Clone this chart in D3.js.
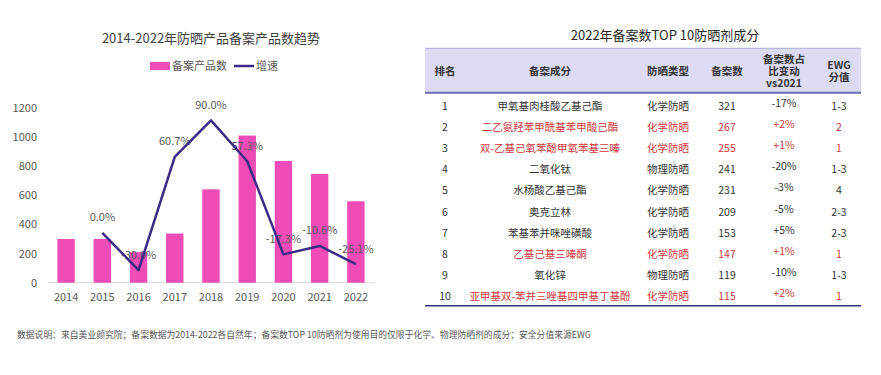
<!DOCTYPE html>
<html>
<head>
<meta charset="utf-8">
<script src="https://cdn.jsdelivr.net/npm/d3@7"></script>
<style>
  body { margin: 0; background: #fff; }
  svg { display: block; font-family: "Noto Sans CJK SC", "Noto Sans", sans-serif; }
</style>
</head>
<body>
<script>
// ---------- data: left chart ----------
var years = ["2014", "2015", "2016", "2017", "2018", "2019", "2020", "2021", "2022"];
var counts = [300, 300, 210, 337, 641, 1010, 835, 746, 559];
var growth = [null, 0.0, -30.0, 60.7, 90.0, 57.3, -17.3, -10.6, -25.1];
var yTicks = [0, 200, 400, 600, 800, 1000, 1200];

// ---------- data: right table ----------
var ranks = ["1", "2", "3", "4", "5", "6", "7", "8", "9", "10"];
var ingredients = ["甲氧基肉桂酸乙基己酯", "二乙氨羟苯甲酰基苯甲酸己酯", "双-乙基己氧苯酚甲氧苯基三嗪", "二氧化钛",
    "水杨酸乙基己酯", "奥克立林", "苯基苯并咪唑磺酸", "乙基己基三嗪酮", "氧化锌", "亚甲基双-苯并三唑基四甲基丁基酚"];
var sunTypes = ["化学防晒", "化学防晒", "化学防晒", "物理防晒", "化学防晒", "化学防晒", "化学防晒", "化学防晒", "物理防晒", "化学防晒"];
var filings = [321, 267, 255, 241, 231, 209, 153, 147, 119, 115];
var shareChange = ["-17%", "+2%", "+1%", "-20%", "-3%", "-5%", "+5%", "+1%", "-10%", "+2%"];
var ewgScores = ["1-3", "2", "1", "1-3", "4", "2-3", "2-3", "1", "1-3", "1"];
var highlighted = [false, true, true, false, false, false, false, true, false, true];

var W = 881, H = 375;
var svg = d3.select("body").append("svg").attr("width", W).attr("height", H);

// ================================
// LEFT: bars + growth line
// ================================
var pink = "#f04cb8", navy = "#3d2a85", textGray = "#595959";

svg.append("text")
    .attr("x", 211).attr("y", 43)
    .attr("text-anchor", "middle")
    .attr("font-size", 13).attr("fill", "#404040")
    .text("2014-2022年防晒产品备案产品数趋势");

// legend
var lg = svg.append("g");
lg.append("rect").attr("x", 150).attr("y", 62).attr("width", 20).attr("height", 8).attr("fill", pink);
lg.append("text").attr("x", 172).attr("y", 70).attr("font-size", 11).attr("fill", textGray).text("备案产品数");
lg.append("line").attr("x1", 234).attr("x2", 254).attr("y1", 66).attr("y2", 66)
    .attr("stroke", navy).attr("stroke-width", 2.5);
lg.append("text").attr("x", 256).attr("y", 70).attr("font-size", 11).attr("fill", textGray).text("增速");

var x = d3.scaleBand().domain(years).range([48, 374]).paddingInner(0.52).paddingOuter(0.26);
var y = d3.scaleLinear().domain([0, 1200]).range([282.7, 107.9]);
var y2 = d3.scaleLinear().domain([-40, 100]).range([282.7, 107.9]);

// y axis labels
svg.append("g").selectAll("text").data(yTicks).enter().append("text")
    .attr("x", 37).attr("y", function(d){ return y(d) + 4; })
    .attr("text-anchor", "end").attr("font-size", 11).attr("fill", textGray)
    .text(function(d){ return d; });

// baseline
svg.append("line").attr("x1", 48).attr("x2", 374).attr("y1", y(0)).attr("y2", y(0))
    .attr("stroke", "#d9d9d9").attr("stroke-width", 1);

// x labels
svg.append("g").selectAll("text").data(years).enter().append("text")
    .attr("x", function(d){ return x(d) + x.bandwidth() / 2; })
    .attr("y", 301)
    .attr("text-anchor", "middle").attr("font-size", 11).attr("fill", textGray)
    .text(function(d){ return d; });

// bars
svg.append("g").selectAll("rect").data(years).enter().append("rect")
    .attr("x", function(d){ return x(d); })
    .attr("width", x.bandwidth())
    .attr("y", function(d, i){ return y(counts[i]); })
    .attr("height", function(d, i){ return y(0) - y(counts[i]); })
    .attr("fill", pink);

var pts = years.map(function(d, i){ return { year: d, g: growth[i] }; })
    .filter(function(p){ return p.g !== null; });

// data labels (under the line, like the original)
svg.append("g").selectAll("text").data(pts).enter().append("text")
    .attr("x", function(p){ return x(p.year) + x.bandwidth() / 2; })
    .attr("y", function(p){ return y2(p.g) - 11.5; })
    .attr("text-anchor", "middle").attr("font-size", 11).attr("fill", textGray)
    .text(function(p){ return p.g.toFixed(1) + "%"; });

// growth line
var line = d3.line()
    .x(function(p){ return x(p.year) + x.bandwidth() / 2; })
    .y(function(p){ return y2(p.g); });
svg.append("path").datum(pts)
    .attr("d", line).attr("fill", "none")
    .attr("stroke", navy).attr("stroke-width", 2.5).attr("stroke-linejoin", "round");

// ================================
// RIGHT: table
// ================================
svg.append("text")
    .attr("x", 665).attr("y", 40)
    .attr("text-anchor", "middle")
    .attr("font-size", 13).attr("fill", "#262626")
    .text("2022年备案数TOP 10防晒剂成分");

var tblLeft = 425, tblRight = 861, headTop = 48.3, headBottom = 92.7;
svg.append("rect").attr("x", tblLeft).attr("y", headTop)
    .attr("width", tblRight - tblLeft).attr("height", headBottom - headTop)
    .attr("fill", "#dddbf3");
svg.append("line").attr("x1", tblLeft).attr("x2", tblRight).attr("y1", headTop).attr("y2", headTop)
    .attr("stroke", "#aeacd6").attr("stroke-width", 1);
svg.append("line").attr("x1", tblLeft).attr("x2", tblRight).attr("y1", headBottom).attr("y2", headBottom)
    .attr("stroke", "#6e6cb8").attr("stroke-width", 2);

var colX = [445, 550, 668, 727, 784, 839];
var headers = [["排名"], ["备案成分"], ["防晒类型"], ["备案数"], ["备案数占", "比变动", "vs2021"], ["EWG", "分值"]];
var headMid = 71;

headers.forEach(function(lines, c){
    var t = svg.append("text")
        .attr("text-anchor", "middle").attr("font-size", 10.5)
        .attr("font-weight", "bold").attr("fill", "#333");
    lines.forEach(function(s, k){
        t.append("tspan")
            .attr("x", colX[c])
            .attr("y", headMid + 3.8 + (k - (lines.length - 1) / 2) * 12.3)
            .text(s);
    });
});

var rowY = d3.scalePoint().domain(ranks).range([106, 296]);
var cols = [ranks, ingredients, sunTypes, filings, shareChange, ewgScores];
var rows = svg.append("g").selectAll("g").data(ranks).enter().append("g");

cols.forEach(function(col, c){
    rows.append("text")
        .attr("x", colX[c])
        .attr("y", function(d){ return rowY(d) + 4 - (c === 4 ? 3 : 0); })
        .attr("text-anchor", "middle").attr("font-size", 10.5)
        .attr("fill", function(d, i){ return (highlighted[i] && c > 0) ? "#d2383c" : "#333"; })
        .text(function(d, i){ return col[i]; });
});

svg.append("line").attr("x1", tblLeft).attr("x2", tblRight).attr("y1", 305.7).attr("y2", 305.7)
    .attr("stroke", "#2f3570").attr("stroke-width", 1.5);

// ================================
// FOOTNOTE
// ================================
svg.append("text")
    .attr("x", 17).attr("y", 338)
    .attr("font-size", 8.8).attr("fill", "#555")
    .text("数据说明：来自美业颜究院；备案数据为2014-2022各自然年；备案数TOP 10防晒剂为使用目的仅限于化学、物理防晒剂的成分；安全分值来源EWG");
</script>
</body>
</html>
